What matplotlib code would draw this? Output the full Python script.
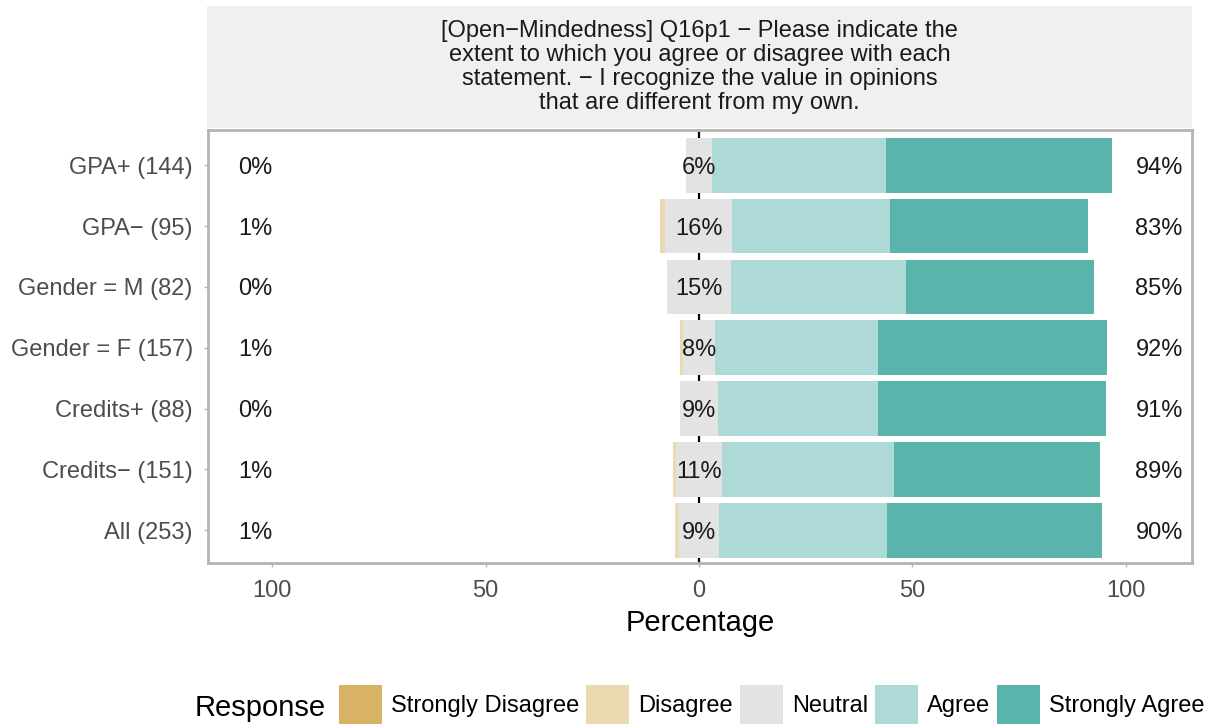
import numpy as np
import matplotlib.pyplot as plt
from matplotlib.patches import Patch

plt.rcParams['font.family'] = ['Liberation Sans', 'DejaVu Sans']

groups = ['GPA+ (144)', 'GPA\u2212 (95)', 'Gender = M (82)', 'Gender = F (157)',
          'Credits+ (88)', 'Credits\u2212 (151)', 'All (253)']
strongly_disagree = [0.0, 0.0, 0.0, 0.0, 0.0, 0.0, 0.0]
disagree = [0.0, 1.2, 0.0, 0.7, 0.0, 0.7, 0.9]
neutral = [6.3, 15.7, 14.8, 7.5, 9.1, 10.6, 9.4]
agree = [40.7, 36.8, 41.2, 38.2, 37.5, 40.3, 39.3]
strongly_agree = [52.9, 46.4, 44.0, 53.6, 53.4, 48.4, 50.4]

responses = ['Strongly Disagree', 'Disagree', 'Neutral', 'Agree', 'Strongly Agree']
colors = ['#D8B365', '#EBD9B2', '#E3E3E3', '#ADD9D6', '#5AB4AC']
title = ('[Open\u2212Mindedness] Q16p1 \u2212 Please indicate the\n'
         'extent to which you agree or disagree with each\n'
         'statement. \u2212 I recognize the value in opinions\n'
         'that are different from my own.')

sd = np.array(strongly_disagree)
d = np.array(disagree)
n = np.array(neutral)
a = np.array(agree)
sa = np.array(strongly_agree)

# top row first, so reverse y positions
y = np.arange(len(groups))[::-1] + 1

fig = plt.figure(figsize=(12.18, 7.24), dpi=100)
ax = fig.add_axes([0.1708, 0.2224, 0.8079, 0.598])

ax.axvline(0, color='black', lw=1.6, zorder=0.5)

h = 0.9
ax.barh(y, sd, left=-n / 2 - d - sd, height=h, color=colors[0], zorder=1)
ax.barh(y, d, left=-n / 2 - d, height=h, color=colors[1], zorder=1)
ax.barh(y, n, left=-n / 2, height=h, color=colors[2], zorder=1)
ax.barh(y, a, left=n / 2, height=h, color=colors[3], zorder=1)
ax.barh(y, sa, left=n / 2 + a, height=h, color=colors[4], zorder=1)

low = np.floor(sd + d + 0.5).astype(int)
mid = np.floor(n + 0.5).astype(int)
high = np.floor(a + sa + 0.5).astype(int)
for yi, lo, mi, hi in zip(y, low, mid, high):
    ax.text(-104, yi, f'{lo}%', ha='center', va='center_baseline', fontsize=17, color='#1A1A1A', zorder=3)
    ax.text(0, yi, f'{mi}%', ha='center', va='center_baseline', fontsize=17, color='#1A1A1A', zorder=3)
    ax.text(107.8, yi, f'{hi}%', ha='center', va='center_baseline', fontsize=17, color='#1A1A1A', zorder=3)

ax.set_xlim(-115, 115.5)
ax.set_ylim(0.46, 7.58)
ax.set_yticks(y)
ax.set_yticklabels(groups)
ax.set_xticks([-100, -50, 0, 50, 100])
ax.set_xticklabels(['100', '50', '0', '50', '100'])
ax.tick_params(axis='y', length=3, width=1, color='#B3B3B3', pad=8, labelsize=17, labelcolor='#4D4D4D')
ax.tick_params(axis='x', length=3, width=1, color='#B3B3B3', pad=9, labelsize=17, labelcolor='#4D4D4D')
ax.set_xlabel('Percentage', fontsize=21, color='black', labelpad=5)
for s in ax.spines.values():
    s.set_color('#B3B3B3')
    s.set_linewidth(2)

# facet strip
strip = fig.add_axes([0.1700, 0.8232, 0.8087, 0.1685])
strip.set_facecolor('#F0F0F0')
strip.set_xticks([])
strip.set_yticks([])
for s in strip.spines.values():
    s.set_visible(False)
strip.text(0.5, 0.5, title, ha='center', va='center', fontsize=17,
           color='#1A1A1A', linespacing=1.13, transform=strip.transAxes)

# legend along the bottom
fig.text(195 / 1218, 1 - 708 / 724, 'Response', ha='left', va='center', fontsize=21)
handles = [Patch(facecolor=c, edgecolor='none', label=r) for c, r in zip(colors, responses)]
fig.legend(handles=handles, loc='upper left', bbox_to_anchor=(339 / 1218, 1 - 685 / 724),
           ncol=5, frameon=False, fontsize=17, handlelength=1.82, handleheight=2.2,
           handletextpad=0.38, columnspacing=0.3, borderpad=0, borderaxespad=0)

fig.savefig('out.png', dpi=100)
